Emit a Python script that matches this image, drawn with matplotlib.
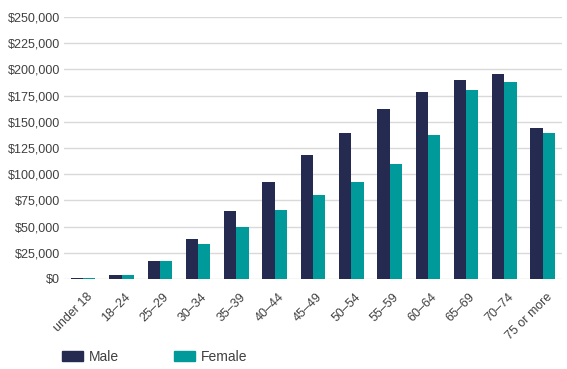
import numpy as np
import matplotlib.pyplot as plt
import matplotlib.transforms as mtransforms
from matplotlib.patches import Patch

# age groups and average balances
ages = ['under 18', '18–24', '25–29', '30–34', '35–39', '40–44', '45–49',
        '50–54', '55–59', '60–64', '65–69', '70–74', '75 or more']
male = [700, 4200, 17300, 38500, 65000, 92300, 118500, 139000, 162000,
        178700, 189500, 195300, 144500]
female = [500, 3500, 16700, 33100, 49800, 65700, 80000, 92500, 109600,
          136900, 180600, 187600, 139400]
yticks = np.arange(0, 250001, 25000)

navy = '#252a51'
teal = '#009a9a'
txt = '#404040'

plt.rcParams['font.family'] = ['Liberation Sans', 'DejaVu Sans']

fig = plt.figure(figsize=(5.67, 3.69), dpi=100)
ax = fig.add_axes([0.113, 0.244, 0.878, 0.71])

x = np.arange(len(ages))
w = 0.32
ax.bar(x - w/2, male, w, color=navy, zorder=3)
ax.bar(x + w/2, female, w, color=teal, zorder=3)

ax.set_xlim(-0.5, len(ages) - 0.5)
ax.set_ylim(0, 250000)
ax.set_yticks(yticks)
ax.set_yticklabels(['${:,.0f}'.format(v) for v in yticks])
ax.grid(axis='y', color='#d9d9d9', linewidth=1, zorder=0)
for s in ax.spines.values():
    s.set_visible(False)
ax.tick_params(axis='both', length=0, colors=txt, labelsize=9)
ax.tick_params(axis='y', pad=3)

ax.set_xticks(x)
ax.set_xticklabels(ages, rotation=45, ha='right', rotation_mode='anchor')
# nudge the rotated labels a little right and down
off = mtransforms.ScaledTranslation(3/100, -7/100, fig.dpi_scale_trans)
for lab in ax.get_xticklabels():
    lab.set_transform(lab.get_transform() + off)

handles = [Patch(color=navy, label='Male'), Patch(color=teal, label='Female')]
fig.legend(handles=handles, loc='lower left', bbox_to_anchor=(0.088, -0.02),
           ncol=2, frameon=False, fontsize=10, labelcolor=txt,
           handlelength=1.45, handleheight=0.65, handletextpad=0.45,
           columnspacing=4.0)

fig.savefig('out.png', dpi=100)
